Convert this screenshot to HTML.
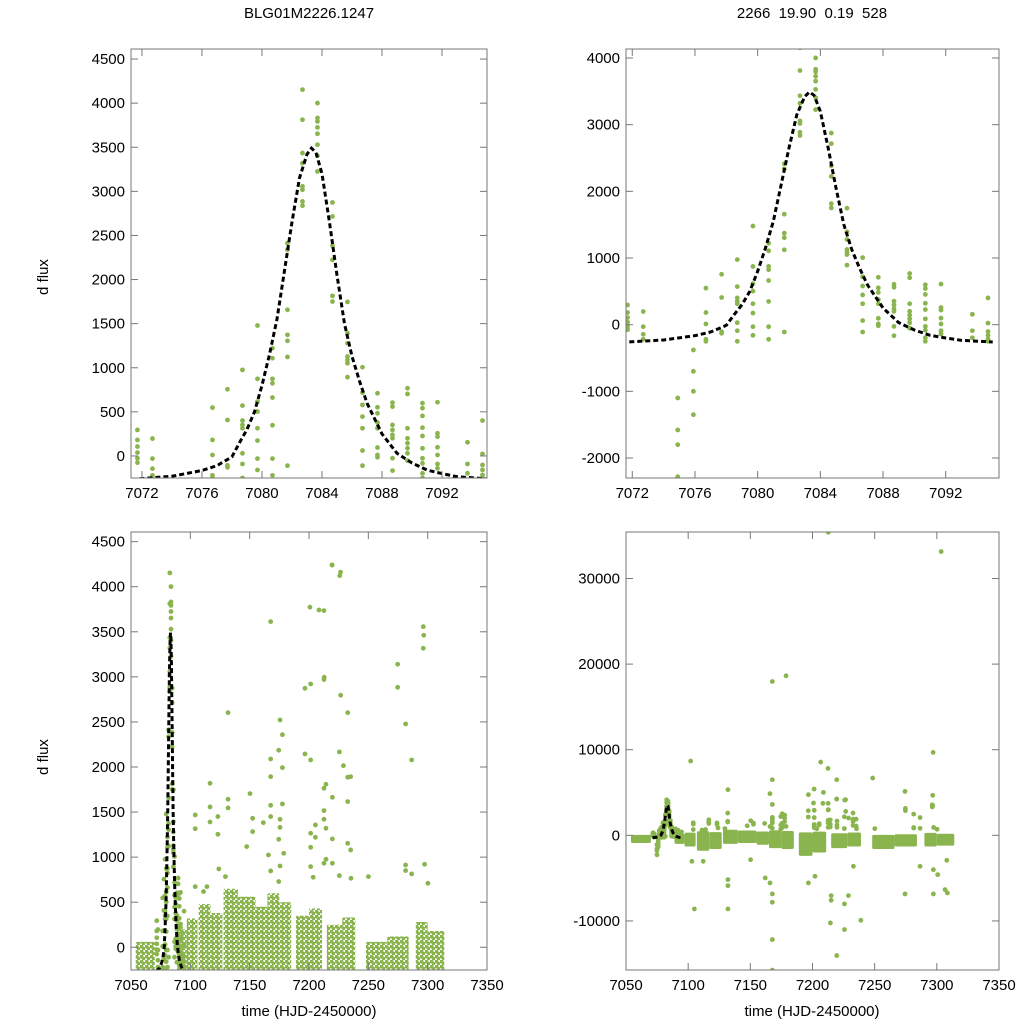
<!DOCTYPE html>
<html><head><meta charset="utf-8"><style>
html,body{margin:0;padding:0;background:#fff;overflow:hidden;width:1024px;height:1024px}
svg{display:block;font-family:"Liberation Sans",sans-serif}
</style></head><body>
<svg id="chart" width="1024" height="1024" viewBox="0 0 1024 1024" xmlns="http://www.w3.org/2000/svg">
<defs>
<pattern id="dots" width="5" height="5" patternUnits="userSpaceOnUse">
<circle cx="1.5" cy="1.5" r="2.1" fill="#8ab54e"/>
<circle cx="4" cy="4" r="2.1" fill="#8ab54e"/>
</pattern>
</defs>
<text x="309" y="18" font-size="15" text-anchor="middle">BLG01M2226.1247</text>
<text x="812" y="18" font-size="15" text-anchor="middle" xml:space="preserve">2266  19.90  0.19  528</text>
<text x="48" y="277" font-size="15" text-anchor="middle" transform="rotate(-90 48 277)">d flux</text>
<text x="48" y="757" font-size="15" text-anchor="middle" transform="rotate(-90 48 757)">d flux</text>
<text x="309" y="1016" font-size="15" text-anchor="middle">time (HJD-2450000)</text>
<text x="812" y="1016" font-size="15" text-anchor="middle">time (HJD-2450000)</text>
</svg>
<script>
// Event data (zoomed light curve)
const evT = [7071.7,7071.7,7071.7,7071.7,7071.7,7071.7,
7072.7,7072.7,7072.7,7072.7,
7074.9,7074.9,7074.9,7074.9,7075.9,7075.9,7075.9,7075.9,
7076.7,7076.7,7076.7,7076.7,7076.7,
7077.7,7077.7,7077.7,7077.7,
7078.7,7078.7,7078.7,7078.7,7078.7,7078.7,7078.7,7078.7,
7079.7,7079.7,7079.7,7079.7,7079.7,7079.7,7079.7,7079.7,
7080.7,7080.7,7080.7,7080.7,7080.7,7080.7,7080.7,7080.7,
7081.7,7081.7,7081.7,7081.7,7081.7,7081.7,7081.7,
7082.7,7082.7,7082.7,7082.7,7082.7,7082.7,7082.7,7082.7,
7083.7,7083.7,7083.7,7083.7,7083.7,7083.7,7083.7,7083.7,
7084.7,7084.7,7084.7,7084.7,7084.7,7084.7,
7085.7,7085.7,7085.7,7085.7,7085.7,7085.7,7085.7,
7086.7,7086.7,7086.7,7086.7,7086.7,7086.7,7086.7,
7087.7,7087.7,7087.7,7087.7,7087.7,7087.7,7087.7,7087.7,
7088.7,7088.7,7088.7,7088.7,7088.7,7088.7,7088.7,7088.7,
7089.7,7089.7,7089.7,7089.7,7089.7,7089.7,7089.7,7089.7,
7090.7,7090.7,7090.7,7090.7,7090.7,7090.7,7090.7,7090.7,7090.7,7090.7,
7091.7,7091.7,7091.7,7091.7,7091.7,7091.7,7091.7,
7093.7,7093.7,7093.7,
7094.7,7094.7,7094.7,7094.7,7094.7,7094.7];
const evF = [295,182,106,38,-26,-76,
197,-30,-144,-220,
-1100,-1580,-1800,-2280,-380,-700,-1000,-1350,
548,182,11,-220,-250,
756,408,-106,-129,
976,571,401,352,314,30,-91,-250,
1479,874,616,503,314,174,-30,-159,
1222,1108,874,824,662,348,-30,-220,
2413,2337,1657,1373,1305,1123,-110,
4153,3812,3434,3320,3056,3018,2886,2837,
4001,3831,3793,3725,3653,3529,3404,3226,
2874,2715,2383,2224,1815,1751,
1747,1392,1278,1127,1089,1051,893,
1006,718,579,446,314,61,-110,
711,552,484,378,314,95,11,-15,
605,560,352,295,238,200,-26,-166,
768,703,314,200,144,87,30,-53,
598,541,454,321,227,87,-26,-83,-197,-250,
609,257,219,98,11,-91,-140,
155,-91,-197,
401,23,-102,-159,-216,-250];
// Model curve samples
const modT = [7071.3,7074,7076,7077,7078,7078.5,7079,7079.5,7080,7080.5,7081,7081.5,7082,7082.5,7083,7083.3,7083.6,7084,7084.5,7085,7085.5,7086,7086.5,7087,7088,7089,7090,7091,7092,7093,7095];
const modF = [-265,-230,-165,-110,-10,150,300,500,800,1150,1550,2100,2650,3150,3420,3490,3440,3200,2650,2050,1500,1130,850,600,250,30,-80,-160,-200,-235,-260];
// Dense season clouds: start, end, low, high flux
const binStart = [7054,7089,7097,7107,7117,7128,7140,7155,7165,7175,7189,7200,7215,7228,7248,7266,7290,7300];
const binEnd   = [7070,7097,7106,7117,7127,7140,7155,7165,7175,7185,7200,7211,7228,7239,7266,7284,7300,7314];
const binLo    = [-900,-1000,-1300,-1800,-1600,-1000,-900,-1100,-1500,-1600,-2400,-2000,-1500,-1300,-1600,-1300,-1300,-1200];
const binHi    = [60,200,320,480,380,650,560,450,600,500,350,430,250,330,60,120,280,180];
// Outlier points
const outT = [7167.7,7219.4,7225.9,7208.4,7212.6,7296.3,7296.3,7274.7,7274.7,7196.6,7201.4,7212.6,7226.7,7232.6,7131.8,7175.6,7177.6,7281.4,7286.5,7174.5,7196.6,7201.4,7225.6,7167.7,7229,7177.6,7232.6,7235.1,7167.7,7116.6,7150.3,7214.3,7212.6,7219.7,7232.6,7131.8,7116.6,7131.8,7104.1,7123.2,7116.6,7104.1,7152.5,7152.5,7161.5,7167.7,7177.6,7167.7,7175.6,7175.6,7123.2,7205.4,7201.4,7205.4,7212.6,7212.6,7214.3,7219.7,7232.6,7235.1,7147.5,7165.8,7174.5,7178.7,7201.4,7214.3,7212.6,7124,7167.7,7175.6,7201.4,7219.7,7225.6,7203.5,7250.1,7235.4,7281.4,7281.4,7286.5,7297.4,7300.2,7129.6,7174.5,7104.1,7114,7111.1,
7212.7,7303.5,7167.7,7178.7,7102,7297,7206.6,7212.5,7219.5,7167.7,7248.4,7132,7165.8,7201.3,7196.7,7208.8,7212.8,7274.4,7296.7,7296.7,7226.6,7219.5,7200.8,
7105,7132,7132,7132,7167.7,7167.7,7167.7,7167.7,7162,7165.8,7196.7,7202,7214.4,7215,7215,7219.5,7225.7,7225.7,7228.9,7238.9,7274.4,7297.2,7297.2,7300.7,7306.6,7308.5,7112.1,7103,7150.2,7308,7232.9,7286.5];
const outF = [3613,4242,4123,3742,3735,3557,3317,3140,2884,2873,2921,2970,2796,2603,2603,2522,2359,2478,2078,2186,2145,2078,2167,2089,2015,1993,1886,1893,1893,1819,1705,1808,1764,1664,1616,1642,1557,1546,1468,1450,1390,1316,1431,1283,1383,1450,1590,1575,1420,1331,1254,1357,1265,1220,1516,1420,1320,1202,1154,1080,1117,1024,1198,1043,1109,976,932,869,847,902,895,932,795,777,784,765,913,851,814,921,710,784,729,673,673,618,
35400,33143,17972,18633,8675,9686,8558,7819,6496,6496,6691,5329,4863,5407,4746,5018,2995,5135,4668,3462,4162,4240,3773,
-8597,-5174,-5874,-8597,-12176,-15754,-7819,-6846,-4979,-5563,-5563,-4785,-10231,-7041,-7586,-14043,-11009,-8013,-7041,-9919,-6846,-6846,-4007,-4590,-6341,-6730,-3034,-3034,-2840,-2918,-3618,-3618];
// Axis tick values
const ticksY_TL = [0,500,1000,1500,2000,2500,3000,3500,4000,4500];
const ticksX_T = [7072,7076,7080,7084,7088,7092];
const ticksY_TR = [-2000,-1000,0,1000,2000,3000,4000];
const ticksY_BL = [0,500,1000,1500,2000,2500,3000,3500,4000,4500];
const ticksX_B = [7050,7100,7150,7200,7250,7300,7350];
const ticksY_BR = [-10000,0,10000,20000,30000];

const NS = 'http://www.w3.org/2000/svg';
const svg = document.getElementById('chart');
const GREEN = '#8ab54e';
function mk(tag, attrs, parent){const e=document.createElementNS(NS,tag);for(const k in attrs)e.setAttribute(k,attrs[k]);(parent||svg).appendChild(e);return e;}

const panels = [
 {id:'top-left', px0:131,px1:487,py0:49,py1:478,t0:7071.27,t1:7095.0,f0:-250,f1:4614,yt:ticksY_TL,xt:ticksX_T,bins:false},
 {id:'top-right',px0:626,px1:999,py0:49,py1:478,t0:7071.6,t1:7095.4,f0:-2300,f1:4135,yt:ticksY_TR,xt:ticksX_T,bins:false},
 {id:'bottom-left',px0:131,px1:487,py0:532,py1:970,t0:7050,t1:7350,f0:-252,f1:4607,yt:ticksY_BL,xt:ticksX_B,bins:true,fill:'url(#dots)'},
 {id:'bottom-right',px0:626,px1:999,py0:532,py1:970,t0:7050,t1:7350,f0:-15730,f1:35430,yt:ticksY_BR,xt:ticksX_B,bins:true,fill:GREEN}
];

panels.forEach((p,pi)=>{
  const sx = t => p.px0 + (t-p.t0)/(p.t1-p.t0)*(p.px1-p.px0);
  const sy = f => p.py1 - (f-p.f0)/(p.f1-p.f0)*(p.py1-p.py0);
  const g = mk('g',{});
  
  
  const cp = mk('clipPath',{id:'clip'+pi},g);
  mk('rect',{x:p.px0,y:p.py0,width:p.px1-p.px0,height:p.py1-p.py0},cp);
  const plot = mk('g',{'clip-path':'url(#clip'+pi+')'},g);
  
  
  if(p.bins){
    for(let i=0;i<binStart.length;i++){
      const r = mk('rect',{x:sx(binStart[i]),y:sy(binHi[i]),width:sx(binEnd[i])-sx(binStart[i]),height:sy(binLo[i])-sy(binHi[i]),fill:p.fill,rx:1.5},plot);
      
      
    }
    for(let i=0;i<outT.length;i++){
      const c = mk('circle',{cx:sx(outT[i]),cy:sy(outF[i]),r:2.4,fill:GREEN},plot);
      
      
    }
  }
  for(let i=0;i<evT.length;i++){
    const c = mk('circle',{cx:sx(evT[i]),cy:sy(evF[i]),r:2.4,fill:GREEN},plot);
    
    
  }
  let d='';
  for(let i=0;i<modT.length;i++){d += (i?'L':'M')+sx(modT[i]).toFixed(2)+' '+sy(modF[i]).toFixed(2);}
  const path = mk('path',{d:d,fill:'none',stroke:'#000','stroke-width':3,'stroke-dasharray':'5 3'},plot);
  
  
  const fr = mk('rect',{x:p.px0,y:p.py0,width:p.px1-p.px0,height:p.py1-p.py0,fill:'none',stroke:'#777','stroke-width':1},g);
  
  
  const L=7;
  p.yt.forEach(v=>{
    const y=sy(v);
    mk('line',{x1:p.px0,x2:p.px0+L,y1:y,y2:y,stroke:'#777'},g);
    mk('line',{x1:p.px1,x2:p.px1-L,y1:y,y2:y,stroke:'#777'},g);
    const t = mk('text',{x:p.px0-6,y:y+5,'font-size':15,'text-anchor':'end'},g);
    t.textContent = v;
    
    
  });
  p.xt.forEach(v=>{
    const x=sx(v);
    mk('line',{x1:x,x2:x,y1:p.py1,y2:p.py1-L,stroke:'#777'},g);
    mk('line',{x1:x,x2:x,y1:p.py0,y2:p.py0+L,stroke:'#777'},g);
    const t = mk('text',{x:x,y:p.py1+20,'font-size':15,'text-anchor':'middle'},g);
    t.textContent = v;
    
    
  });
});
</script>
</body></html>
